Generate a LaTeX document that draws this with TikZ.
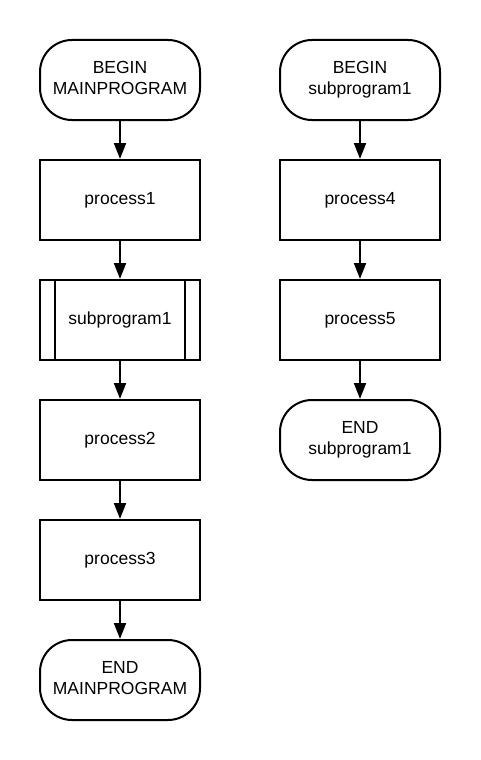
\documentclass[tikz,border=0pt]{standalone}
\usepackage{fontspec}
\setmainfont{Liberation Sans}
\usepackage{tikz}
\usetikzlibrary{arrows.meta}

\tikzset{
  box/.style={draw,line width=2pt,minimum width=160pt,minimum height=80pt,
    align=center,font=\fontsize{17.5}{21}\selectfont},
  term/.style={box,rounded corners=32pt,text depth=4pt},
  flow/.style={->,line width=2pt}
}

\begin{document}
\begin{tikzpicture}[line cap=butt,line join=miter,>={Triangle[length=16pt,width=12pt]},x=1pt,y=-1pt]
\useasboundingbox (0,0) rectangle (480,760);
% main program
\node[term] (bm) at (120,80) {BEGIN\\MAINPROGRAM};
\node[box] (p1) at (120,200) {process1};
\node[box] (sp) at (120,320) {subprogram1};
\node[box] (p2) at (120,440) {process2};
\node[box] (p3) at (120,560) {process3};
\node[term] (em) at (120,680) {END\\MAINPROGRAM};
\draw [line width=2pt] ([xshift=16pt]sp.north west)-- ([xshift=16pt]sp.south west);
\draw [line width=2pt] ([xshift=-16pt]sp.north east)-- ([xshift=-16pt]sp.south east);
\draw [flow] (bm)-- (p1);
\draw [flow] (p1)-- (sp);
\draw [flow] (sp)-- (p2);
\draw [flow] (p2)-- (p3);
\draw [flow] (p3)-- (em);
% subprogram
\node[term] (bs) at (360,80) {BEGIN\\subprogram1};
\node[box] (p4) at (360,200) {process4};
\node[box] (p5) at (360,320) {process5};
\node[term] (es) at (360,440) {END\\subprogram1};
\draw [flow] (bs)-- (p4);
\draw [flow] (p4)-- (p5);
\draw [flow] (p5)-- (es);
\end{tikzpicture}
\end{document}
